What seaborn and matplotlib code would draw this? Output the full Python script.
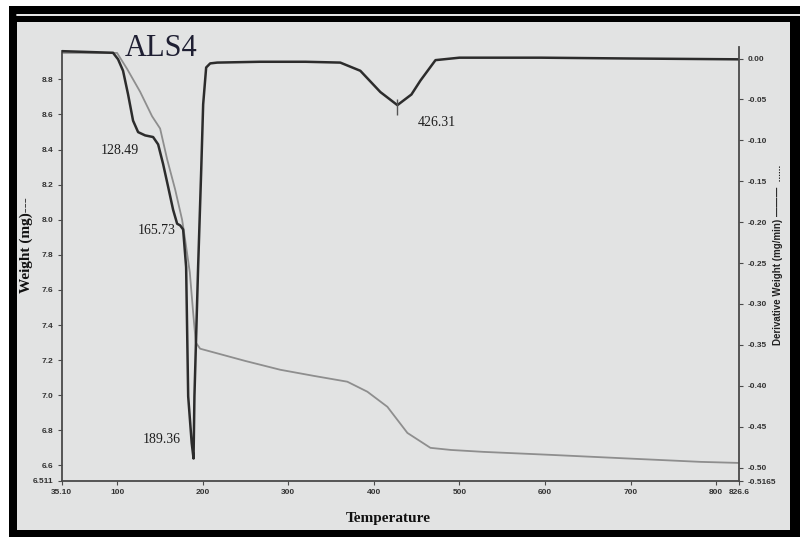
import matplotlib
matplotlib.use("Agg")
import matplotlib.pyplot as plt
import seaborn as sns
from matplotlib.patches import Rectangle
from matplotlib.lines import Line2D

# DTG curve (dark line, right axis)
dtg_temp = [35.1, 95.3, 101.2, 107, 112.9, 118.7, 124.6, 132.8, 142.1, 148, 153.8,
            159.7, 165.5, 170.2, 173.7, 177.2, 180.7, 183.1, 187.2, 189.36, 190.4,
            194.7, 198.3, 200.6, 204.1, 208.8, 217, 267, 320, 360.8, 384.2, 407.6,
            427.5, 443.9, 454.4, 472, 500, 595, 700, 826.6]
dtg_value = [0.009, 0.007, -0.001, -0.015, -0.044, -0.076, -0.090, -0.094, -0.096, -0.105,
             -0.129, -0.157, -0.185, -0.202, -0.204, -0.209, -0.255, -0.413, -0.470, -0.489,
             -0.413, -0.255, -0.137, -0.056, -0.011, -0.006, -0.005, -0.004, -0.004, -0.005,
             -0.015, -0.041, -0.057, -0.044, -0.027, -0.002, 0.001, 0.001, 0.0, -0.001]

# weight curve (light line, left axis)
weight_temp = [35.1, 100, 111.7, 126.9, 140.9, 150.3, 158.5, 167.8, 176, 179.5, 185,
               188.9, 192, 197.1, 250, 290.7, 330, 369, 392.4, 415.8, 439.2, 466.1,
               490, 528.1, 606.5, 684.8, 781.9, 826.6]
weight_value = [8.951, 8.951, 8.86, 8.73, 8.59, 8.52, 8.345, 8.174, 8.0, 7.888, 7.7,
                7.471, 7.3, 7.265, 7.195, 7.145, 7.11, 7.077, 7.02, 6.934, 6.785, 6.70,
                6.688, 6.677, 6.66, 6.642, 6.62, 6.614]

peak_labels = ["128.49", "165.73", "189.36", "426.31"]
peak_marker_temp = 427.5
peak_marker_value = -0.059

x_ticks = [35.1, 100, 200, 300, 400, 500, 600, 700, 800, 826.6]
x_tick_labels = ["35.10", "100", "200", "300", "400", "500", "600", "700", "800", "826.6"]
left_ticks = [6.511, 6.6, 6.8, 7.0, 7.2, 7.4, 7.6, 7.8, 8.0, 8.2, 8.4, 8.6, 8.8]
left_tick_labels = ["6.511", "6.6", "6.8", "7.0", "7.2", "7.4", "7.6", "7.8", "8.0",
                    "8.2", "8.4", "8.6", "8.8"]
right_ticks = [0.0, -0.05, -0.10, -0.15, -0.20, -0.25, -0.30, -0.35, -0.40, -0.45,
               -0.50, -0.5165]
right_tick_labels = ["0.00", "-0.05", "-0.10", "-0.15", "-0.20", "-0.25", "-0.30",
                     "-0.35", "-0.40", "-0.45", "-0.50", "-0.5165"]

sns.set_style("ticks")

W, H = 800, 537
fig = plt.figure(figsize=(W / 100, H / 100), dpi=100)
fig.patch.set_facecolor("white")

# scanned frame: black border, thin white line, grey panel
fig.patches.append(Rectangle((9 / W, 0), 1 - 9 / W, (H - 6) / H, transform=fig.transFigure,
                             facecolor="black", edgecolor="none", zorder=-5))
fig.lines.append(Line2D([17 / W, 1], [1 - 14.5 / H, 1 - 14.5 / H], transform=fig.transFigure,
                        color="white", linewidth=1.3, zorder=-4))
fig.patches.append(Rectangle((17 / W, 7 / H), (790 - 17) / W, (530 - 22) / H,
                             transform=fig.transFigure, facecolor="#e2e3e3",
                             edgecolor="none", zorder=-4))

ax = fig.add_axes([61.5 / W, 1 - 481 / H, (739 - 61.5) / W, 434 / H])
ax2 = ax.twinx()
for a in (ax, ax2):
    a.set_facecolor("none")

sns.lineplot(x=weight_temp, y=weight_value, ax=ax, color="#8e8e8e", linewidth=1.3)
sns.lineplot(x=dtg_temp, y=dtg_value, ax=ax2, color="#2c2c2c", linewidth=1.8)
ax2.plot([peak_marker_temp], [peak_marker_value], marker="|", markersize=11,
         color="#555555", markeredgewidth=1.0)

ax.set_xlim(35.1, 826.6)
ax.set_ylim(6.511, 6.511 + 434 / 175.45)
ax2.set_ylim(-0.5165, -0.5165 + 434 / 818)

spine_col = "#4a4a4a"
for a in (ax, ax2):
    for s in a.spines.values():
        s.set_color(spine_col)
        s.set_linewidth(1.3)
    a.spines["top"].set_visible(False)
ax.spines["right"].set_visible(False)
ax2.spines["left"].set_visible(False)
ax2.spines["bottom"].set_visible(False)
ax.spines["left"].set_bounds(6.511, 8.962)

tick_font = dict(family="Liberation Sans", size=6, weight="bold", color="#333333")
ax.set_xticks(x_ticks)
ax.set_xticklabels(x_tick_labels, fontdict=tick_font)
ax.set_yticks(left_ticks)
ax.set_yticklabels(left_tick_labels, fontdict=tick_font)
ax2.set_yticks(right_ticks)
ax2.set_yticklabels(right_tick_labels, fontdict=tick_font)
for a in (ax, ax2):
    a.tick_params(length=3, width=0.8, color=spine_col, pad=3)

ax.set_xlabel("Temperature", family="Liberation Serif", fontsize=11, weight="bold",
              color="#111111")
ax.xaxis.set_label_coords((388 - 61.5) / (739 - 61.5), -(512 - 481) / 434)
ax.set_ylabel("Weight (mg)---", family="Liberation Serif", fontsize=11, weight="bold",
              color="#111111")
ax.yaxis.set_label_coords(-(61.5 - 33) / (739 - 61.5), (481 - 245) / 434)
ax2.set_ylabel("Derivative Weight (mg/min) \u2014\u2014\u2014  ......", family="Liberation Sans",
               fontsize=7, weight="bold", color="#222222", rotation=90)
ax2.yaxis.set_label_coords(1 + (773 - 739) / (739 - 61.5), (481 - 255) / 434)

lab_font = dict(family="Liberation Serif", fontsize=10, color="#1e1e1e", va="center", ha="left")
ax2.text(81, -0.112, peak_labels[0], **lab_font)
ax2.text(124.6, -0.210, peak_labels[1], **lab_font)
ax2.text(130.4, -0.466, peak_labels[2], **lab_font)
ax2.text(450.9, -0.078, peak_labels[3], **lab_font)

fig.text(125 / W, 1 - 48 / H, "ALS4", family="Liberation Serif", fontsize=22,
         color="#1f1f33", va="center", ha="left")

fig.savefig("out.png", dpi=100)
